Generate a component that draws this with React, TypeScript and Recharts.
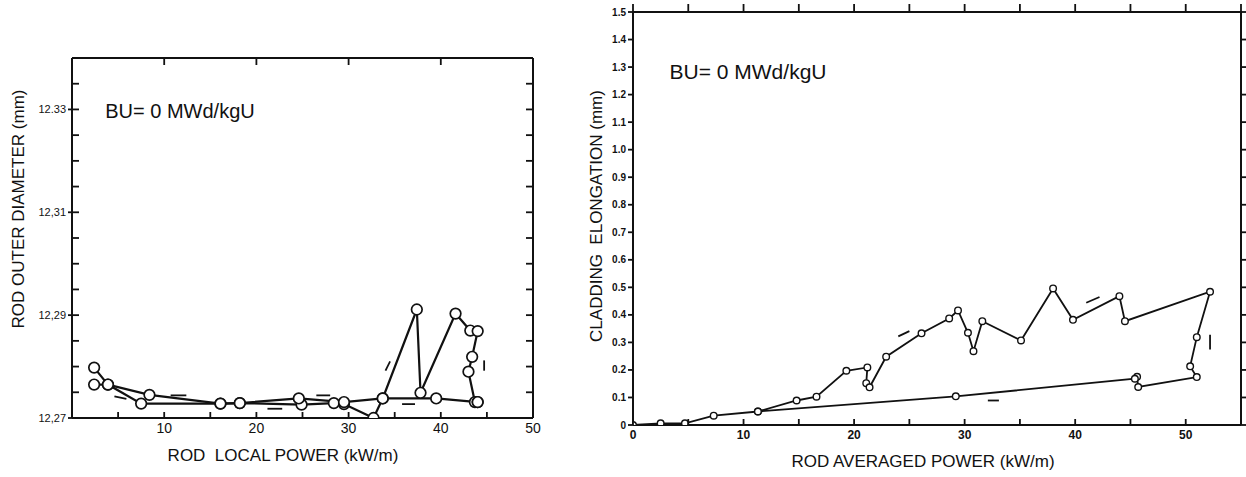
import { LineChart, Line, XAxis, YAxis } from "recharts";

// left panel: rod outer diameter vs rod local power
const localPowerUp = [2.4, 3.9, 7.5, 16.1, 18.2, 24.9, 28.4, 29.5, 32.7, 33.7, 37.4, 37.8, 41.6, 43.2, 44.0, 43.4, 43.0, 43.7, 44.0];
const diameterUp = [12.2798, 12.2765, 12.2728, 12.2728, 12.2729, 12.2726, 12.2729, 12.2727, 12.27, 12.2738, 12.2911, 12.2749, 12.2903, 12.287, 12.2869, 12.2819, 12.279, 12.2731, 12.2731];
const localPowerDown = [44.0, 39.5, 33.7, 29.5, 24.6, 18.2, 16.1, 8.4, 3.9, 2.4];
const diameterDown = [12.2731, 12.2738, 12.2738, 12.2731, 12.2738, 12.2729, 12.2728, 12.2745, 12.2765, 12.2765];
const leftArrowX = [[4.6, 5.9], [10.7, 12.4], [21.2, 22.8], [26.5, 28.0], [34.0, 34.5], [35.8, 37.2], [44.7, 44.7]];
const leftArrowY = [[12.2742, 12.2737], [12.2744, 12.2744], [12.2718, 12.2718], [12.2744, 12.2744], [12.2792, 12.281], [12.2727, 12.2727], [12.2792, 12.2812]];
const leftYTicks = [12.27, 12.275, 12.28, 12.285, 12.29, 12.295, 12.3, 12.305, 12.31, 12.315, 12.32, 12.325, 12.33, 12.335, 12.34];
const leftYLabelled = [12.27, 12.29, 12.31, 12.33];
const leftYLabelText = ["12,27", "12,29", "12,31", "12.33"];
const leftXTicks = [0, 5, 10, 15, 20, 25, 30, 35, 40, 45, 50];
const leftTopTicks = [10, 20, 30, 40];

// right panel: cladding elongation vs rod averaged power
const avgPower = [0, 2.5, 4.7, 7.3, 11.3, 14.8, 16.6, 19.3, 21.2, 21.1, 21.4, 22.9, 26.1, 28.6, 29.4, 30.3, 30.8, 31.6, 35.1, 38.0, 39.8, 44.0, 44.5, 52.2, 51.0, 50.4, 51.0, 45.7, 45.6, 45.4, 29.2, 11.3];
const elongation = [0, 0.006, 0.006, 0.034, 0.049, 0.089, 0.103, 0.197, 0.209, 0.152, 0.137, 0.248, 0.333, 0.387, 0.416, 0.335, 0.268, 0.377, 0.307, 0.496, 0.382, 0.468, 0.377, 0.484, 0.319, 0.213, 0.174, 0.138, 0.175, 0.168, 0.104, 0.049];
const rightArrowX = [[24.0, 25.0], [41.0, 42.2], [52.2, 52.2], [32.1, 33.1]];
const rightArrowY = [[0.322, 0.341], [0.444, 0.465], [0.274, 0.328], [0.089, 0.089]];
const rightYTicks = [0, 0.1, 0.2, 0.3, 0.4, 0.5, 0.6, 0.7, 0.8, 0.9, 1.0, 1.1, 1.2, 1.3, 1.4, 1.5];
const rightXTicks = [0, 5, 10, 15, 20, 25, 30, 35, 40, 45, 50, 55];

const toPoints = (xs: number[], ys: number[]) => xs.map((x, i) => ({ x, y: ys[i] }));

const ink = "#111";
const font = "'Liberation Sans', Arial, sans-serif";
const TS = 6; // tickSize given to every axis, the tick renderers undo it to find the axis line

const leftLabel = (v: number) => {
  const i = leftYLabelled.findIndex((t) => Math.abs(t - v) < 1e-6);
  return i >= 0 ? leftYLabelText[i] : "";
};

// bottom axis: ticks point up into the plot, labels on the decades
const bottomTick = (margin: number, size: number, bold: boolean, zero: boolean) => (p: any) => {
  const ay = p.y - TS - margin;
  const v = p.payload.value;
  const label = v % 10 === 0 && (v > 0 || zero) ? String(v) : "";
  return (
    <g>
      <line x1={p.x} x2={p.x} y1={ay} y2={ay - 6} stroke={ink} strokeWidth={1.8} />
      {label && (
        <text x={p.x} y={ay + 5} dy="0.71em" textAnchor="middle" fontSize={size} fill={ink}
          fontFamily={font} fontWeight={bold ? 700 : 400}>
          {label}
        </text>
      )}
    </g>
  );
};

// left axis of the left panel: inward ticks, the labelled ones cross the line
const leftYTick = (margin: number) => (p: any) => {
  const ax = p.x + TS + margin;
  const label = leftLabel(p.payload.value);
  return (
    <g>
      <line x1={label ? ax - 4 : ax} x2={ax + 7} y1={p.y} y2={p.y} stroke={ink} strokeWidth={1.8} />
      {label && (
        <text x={ax - 6} y={p.y} dy="0.35em" textAnchor="end" fontSize={11} fill={ink} fontFamily={font}>
          {label}
        </text>
      )}
    </g>
  );
};

const rightTick = (len: number) => (p: any) => {
  const ax = p.x - TS;
  return <line x1={ax} x2={ax + len} y1={p.y} y2={p.y} stroke={ink} strokeWidth={1.8} />;
};

const topTick = (len: number) => (p: any) => {
  const ay = p.y + TS;
  return <line x1={p.x} x2={p.x} y1={ay} y2={ay + len} stroke={ink} strokeWidth={1.8} />;
};

const txt = (style: React.CSSProperties, text: string, rotate = false) => (
  <div
    style={{
      position: "absolute",
      whiteSpace: "pre",
      fontFamily: font,
      color: ink,
      transform: rotate ? "translate(-50%, -50%) rotate(-90deg)" : "translate(-50%, -50%)",
      ...style,
    }}
  >
    {text}
  </div>
);

// every axis is used by at least one series, otherwise recharts leaves its ticks out
const LeftChart = () => (
  <LineChart width={560} height={477} margin={{ top: 48, right: 0, bottom: 29, left: 0 }}>
    <XAxis xAxisId="b" type="number" dataKey="x" domain={[0, 50]} ticks={leftXTicks} interval={0}
      allowDataOverflow stroke={ink} strokeWidth={2} tickLine={false} tickSize={TS} tickMargin={2} height={30}
      tick={bottomTick(2, 14, false, false)} />
    <XAxis xAxisId="t" orientation="top" type="number" dataKey="x" domain={[0, 50]} ticks={leftTopTicks}
      interval={0} allowDataOverflow stroke={ink} strokeWidth={2} tickLine={false} tickSize={TS} tickMargin={0}
      height={10} tick={topTick(7)} />
    <YAxis yAxisId="l" type="number" domain={[12.27, 12.34]} ticks={leftYTicks} interval={0}
      allowDataOverflow stroke={ink} strokeWidth={2} tickLine={false} tickSize={TS} tickMargin={2} width={72}
      tick={leftYTick(2)} />
    <YAxis yAxisId="r" orientation="right" type="number" domain={[12.27, 12.34]} ticks={leftYTicks}
      interval={0} allowDataOverflow stroke={ink} strokeWidth={2} tickLine={false} tickSize={TS} tickMargin={0}
      width={27} tick={rightTick(-7)} />
    <Line xAxisId="b" yAxisId="l" data={toPoints(localPowerUp, diameterUp)} dataKey="y" type="linear"
      stroke={ink} strokeWidth={2.2} isAnimationActive={false} activeDot={false}
      dot={{ r: 5.3, stroke: ink, strokeWidth: 1.7, fill: "#fff" }} />
    <Line xAxisId="t" yAxisId="r" data={toPoints(localPowerDown, diameterDown)} dataKey="y" type="linear"
      stroke={ink} strokeWidth={2.2} isAnimationActive={false} activeDot={false}
      dot={{ r: 5.3, stroke: ink, strokeWidth: 1.7, fill: "#fff" }} />
    {leftArrowX.map((xs, i) => (
      <Line key={"la" + i} xAxisId="b" yAxisId="l" data={toPoints(xs, leftArrowY[i])} dataKey="y"
        type="linear" stroke={ink} strokeWidth={1.8} dot={false} activeDot={false} isAnimationActive={false} />
    ))}
  </LineChart>
);

const RightChart = () => (
  <LineChart width={686} height={477} margin={{ top: 0, right: 0, bottom: 22, left: 0 }}>
    <XAxis xAxisId="b" type="number" dataKey="x" domain={[0, 55]} ticks={rightXTicks} interval={0}
      allowDataOverflow stroke={ink} strokeWidth={2} tickLine={false} tickSize={TS} tickMargin={2} height={30}
      tick={bottomTick(2, 12, true, true)} />
    <XAxis xAxisId="t" orientation="top" type="number" dataKey="x" domain={[0, 55]} ticks={rightXTicks}
      interval={0} allowDataOverflow stroke={ink} strokeWidth={2} tickLine={false} tickSize={TS} tickMargin={0}
      height={12} tick={topTick(-8)} />
    <YAxis yAxisId="l" type="number" domain={[0, 1.5]} ticks={rightYTicks} interval={0}
      allowDataOverflow stroke={ink} strokeWidth={2} tickSize={5} tickMargin={2} width={73}
      tickLine={{ stroke: ink, strokeWidth: 1.8 }} tick={{ fontSize: 10, fill: ink, fontFamily: font, fontWeight: 700 }}
      tickFormatter={(v: number) => (v === 0 ? "0" : v.toFixed(1))} />
    <YAxis yAxisId="r" orientation="right" type="number" domain={[0, 1.5]} ticks={rightYTicks}
      interval={0} allowDataOverflow stroke={ink} strokeWidth={2} tickLine={false} tickSize={TS} tickMargin={0}
      width={5} tick={rightTick(5)} />
    <Line xAxisId="b" yAxisId="l" data={toPoints(avgPower, elongation)} dataKey="y" type="linear"
      stroke={ink} strokeWidth={1.8} isAnimationActive={false} activeDot={false}
      dot={{ r: 3.3, stroke: ink, strokeWidth: 1.4, fill: "#fff" }} />
    {rightArrowX.map((xs, i) => (
      <Line key={"ra" + i} xAxisId="t" yAxisId="r" data={toPoints(xs, rightArrowY[i])} dataKey="y"
        type="linear" stroke={ink} strokeWidth={1.8} dot={false} activeDot={false} isAnimationActive={false} />
    ))}
  </LineChart>
);

export default function App() {
  return (
    <div style={{ position: "fixed", left: 0, top: 0, width: 1246, height: 477, background: "#fff" }}>
      <div style={{ position: "absolute", left: 0, top: 0 }}>
        <LeftChart />
      </div>
      <div style={{ position: "absolute", left: 560, top: 0 }}>
        <RightChart />
      </div>
      {txt({ left: 180, top: 111, fontSize: 20 }, "BU= 0 MWd/kgU")}
      {txt({ left: 748, top: 72, fontSize: 21 }, "BU= 0 MWd/kgU")}
      {txt({ left: 19, top: 209, fontSize: 17 }, "ROD OUTER DIAMETER (mm)", true)}
      {txt({ left: 597, top: 216, fontSize: 17 }, "CLADDING  ELONGATION (mm)", true)}
      {txt({ left: 283, top: 456, fontSize: 17 }, "ROD  LOCAL POWER (kW/m)")}
      {txt({ left: 923, top: 462, fontSize: 17 }, "ROD AVERAGED POWER (kW/m)")}
    </div>
  );
}
